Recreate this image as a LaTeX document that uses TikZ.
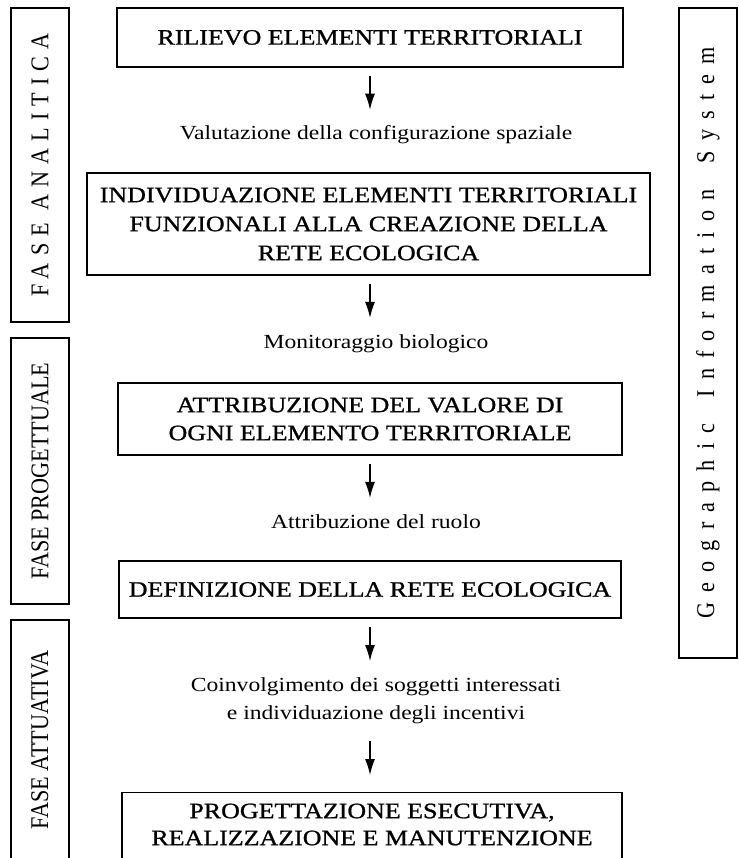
\documentclass[tikz,border=0pt]{standalone}
\usepackage{fontspec}
\usepackage{tikz}
\usetikzlibrary{arrows.meta, positioning}
\setmainfont{Liberation Serif}
\newfontfamily\boxfont{Liberation Serif}[FakeStretch=1.18, FakeBold=1]
\newfontfamily\labelfont{Liberation Serif}[FakeStretch=1.18]
\newfontfamily\phasefont{Liberation Serif}[FakeStretch=0.87]
\newfontfamily\phasefontwide{Liberation Serif}[FakeStretch=0.87, LetterSpace=28]
\newfontfamily\gisfont{Liberation Serif}[FakeStretch=0.87, LetterSpace=40]
\tikzset{
  stepbox/.style={draw, line width=1.2pt, inner sep=0pt, align=center, font=\boxfont\fontsize{22}{28}\selectfont},
  phase/.style={draw, line width=1.2pt, rotate=90, inner sep=0pt, minimum height=58pt, font=\phasefont\fontsize{25.5}{30}\selectfont},
  lbl/.style={inner sep=0pt, align=center, font=\labelfont\fontsize{20}{28}\selectfont},
  pto/.style={-{Latex[length=16pt,width=10pt]}, line width=1.3pt}
}

\begin{document}
\begin{tikzpicture}[x=1pt, y=-1pt]
    \useasboundingbox (0,0) rectangle (738,858);
    \clip (0,0) rectangle (738,858);

    % flow of the steps
    \node[stepbox, minimum width=506pt, minimum height=59pt] (rilievo) at (370,37.5) {RILIEVO ELEMENTI TERRITORIALI};
    \node[lbl, anchor=base] (valutazione) at (376,140) {Valutazione della configurazione spaziale};
    \node[stepbox, minimum width=563pt, minimum height=102pt, font=\boxfont\fontsize{22}{29}\selectfont] (individuazione) at (368.5,224)
        {INDIVIDUAZIONE ELEMENTI TERRITORIALI\\FUNZIONALI ALLA CREAZIONE DELLA\\RETE ECOLOGICA};
    \node[lbl, anchor=base] (monitoraggio) at (376,348) {Monitoraggio biologico};
    \node[stepbox, minimum width=504pt, minimum height=72pt] (attribuzione) at (370,419)
        {ATTRIBUZIONE DEL VALORE DI\\OGNI ELEMENTO TERRITORIALE};
    \node[lbl, anchor=base] (ruolo) at (376,528) {Attribuzione del ruolo};
    \node[stepbox, minimum width=502pt, minimum height=57pt] (definizione) at (370,589.5) {DEFINIZIONE DELLA RETE ECOLOGICA};
    \node[lbl, anchor=north] (coinvolgimento) at (376,677)
        {Coinvolgimento dei soggetti interessati\\e individuazione degli incentivi};
    \node[stepbox, anchor=north, minimum width=500pt, inner ysep=11pt, font=\boxfont\fontsize{22}{27}\selectfont] (progettazione) at (372,792)
        {PROGETTAZIONE ESECUTIVA,\\REALIZZAZIONE E MANUTENZIONE\rule[-20pt]{0pt}{20pt}};

    \draw[pto, shorten <=8pt, shorten >=16pt] (rilievo.south) -- (rilievo.south |- valutazione.north);
    \draw[pto, shorten <=8pt, shorten >=16pt] (rilievo.south |- individuazione.south) -- (rilievo.south |- monitoraggio.north);
    \draw[pto, shorten <=8pt, shorten >=16pt] (attribuzione.south) -- (attribuzione.south |- ruolo.north);
    \draw[pto, shorten <=8pt, shorten >=16pt] (definizione.south) -- (definizione.south |- coinvolgimento.north);
    \draw[pto, shorten <=17pt, shorten >=17pt] (definizione.south |- coinvolgimento.south) -- (definizione.south |- progettazione.north);

    % phases on the left, GIS on the right
    \node[phase, minimum width=314pt, font=\phasefontwide\fontsize{25.5}{30}\selectfont] (analitica) at (40,165) {FASE\hspace{12pt}ANALITICA};
    \node[phase, minimum width=266pt] (progettuale) at (40,471) {FASE PROGETTUALE};
    \node[phase, minimum width=240pt] (attuativa) at (40,740) {FASE ATTUATIVA};
    \node[phase, minimum width=650pt, font=\gisfont\fontsize{25.5}{30}\selectfont] (gis) at (708,333)
        {Geographic\hspace{26pt}Information\hspace{26pt}System};
\end{tikzpicture}
\end{document}
